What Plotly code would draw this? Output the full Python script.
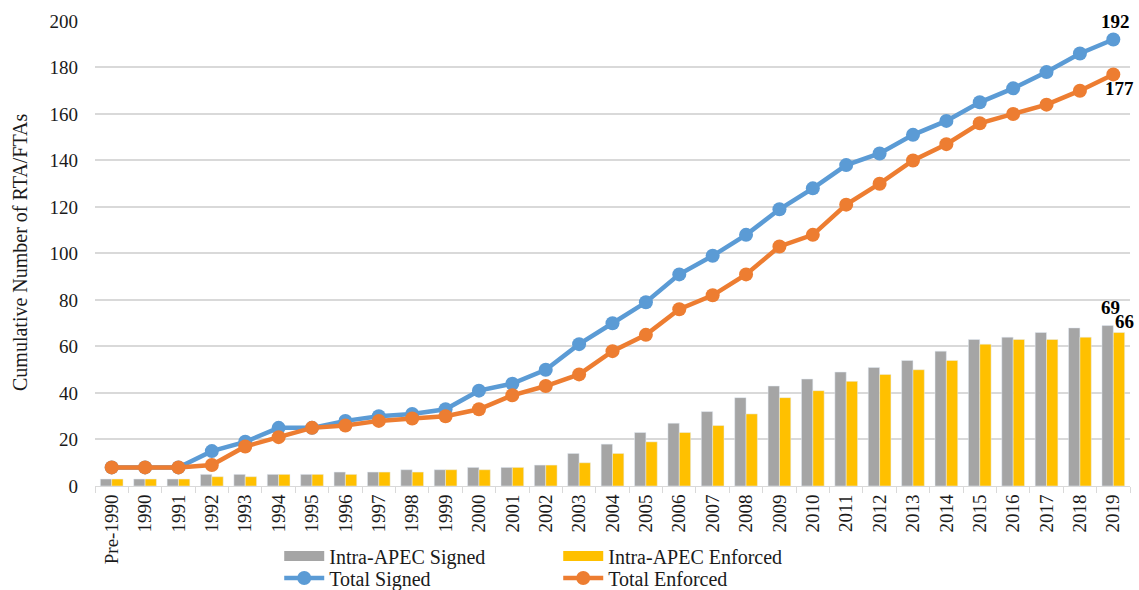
import plotly.graph_objects as go

# data
years = ["Pre-1990", "1990", "1991", "1992", "1993", "1994", "1995", "1996", "1997",
         "1998", "1999", "2000", "2001", "2002", "2003", "2004", "2005", "2006", "2007",
         "2008", "2009", "2010", "2011", "2012", "2013", "2014", "2015", "2016", "2017",
         "2018", "2019"]
intra_signed = [3, 3, 3, 5, 5, 5, 5, 6, 6, 7, 7, 8, 8, 9, 14, 18, 23, 27, 32, 38, 43,
                46, 49, 51, 54, 58, 63, 64, 66, 68, 69]
intra_enforced = [3, 3, 3, 4, 4, 5, 5, 5, 6, 6, 7, 7, 8, 9, 10, 14, 19, 23, 26, 31, 38,
                  41, 45, 48, 50, 54, 61, 63, 63, 64, 66]
total_signed = [8, 8, 8, 15, 19, 25, 25, 28, 30, 31, 33, 41, 44, 50, 61, 70, 79, 91, 99,
                108, 119, 128, 138, 143, 151, 157, 165, 171, 178, 186, 192]
total_enforced = [8, 8, 8, 9, 17, 21, 25, 26, 28, 29, 30, 33, 39, 43, 48, 58, 65, 76, 82,
                  91, 103, 108, 121, 130, 140, 147, 156, 160, 164, 170, 177]

FONT = "Liberation Serif, Times New Roman, serif"
TXT = "#1a1a1a"
GREY, GOLD, BLUE, ORANGE = "#a5a5a5", "#ffc000", "#5b9bd5", "#ed7d31"

fig = go.Figure()
fig.add_trace(go.Bar(x=years, y=intra_signed, name="Intra-APEC Signed", marker_color=GREY,
                     legendgroup="is", showlegend=False))
fig.add_trace(go.Bar(x=years, y=intra_enforced, name="Intra-APEC Enforced", marker_color=GOLD,
                     legendgroup="ie", showlegend=False))
# legend entries for the bars drawn as thick strokes (Excel style wide swatch)
fig.add_trace(go.Scatter(x=[None], y=[None], mode="lines", name="Intra-APEC Signed",
                         line=dict(color=GREY, width=10), legendgroup="is", legend="legend"))
fig.add_trace(go.Scatter(x=[None], y=[None], mode="lines", name="Intra-APEC Enforced",
                         line=dict(color=GOLD, width=10), legendgroup="ie", legend="legend"))
fig.add_trace(go.Scatter(x=years, y=total_signed, name="Total Signed", mode="lines+markers",
                         line=dict(color=BLUE, width=4.5),
                         marker=dict(size=14, color=BLUE), legend="legend2"))
fig.add_trace(go.Scatter(x=years, y=total_enforced, name="Total Enforced", mode="lines+markers",
                         line=dict(color=ORANGE, width=4.5),
                         marker=dict(size=14, color=ORANGE), legend="legend2"))

# end-point value labels (x given as category index of the last year)
last = len(years) - 1
ends = [(total_signed[-1], 2, 18), (total_enforced[-1], 6, -14),
        (intra_signed[-1], -3, 18), (intra_enforced[-1], 11, 11)]
for val, xs, ys in ends:
    fig.add_annotation(x=last, y=val, text=f"<b>{val}</b>", showarrow=False,
                       xshift=xs, yshift=ys, font=dict(family=FONT, size=19, color="black"))

# y axis title placed by hand so the plot area keeps its margins
fig.add_annotation(xref="paper", yref="paper", x=-75 / 1035, y=0.5, textangle=-90,
                   text="Cumulative Number of RTA/FTAs", showarrow=False,
                   xanchor="center", yanchor="middle",
                   font=dict(family=FONT, size=20, color=TXT))

legend_common = dict(orientation="h", xanchor="left", yanchor="middle", x=0.178,
                     yref="container", entrywidth=224,
                     font=dict(family=FONT, size=20, color=TXT),
                     bgcolor="rgba(0,0,0,0)", tracegroupgap=0, itemwidth=40)

fig.update_layout(
    width=1139, height=590,
    margin=dict(l=95, r=9, t=20, b=104),
    plot_bgcolor="white", paper_bgcolor="white",
    barmode="group", bargap=0.32, bargroupgap=0,
    font=dict(family=FONT, size=17, color=TXT),
    legend=dict(y=(590 - 556) / 590, **legend_common),
    legend2=dict(y=(590 - 578) / 590, **legend_common),
    xaxis=dict(type="category", range=[-0.5, len(years) - 0.5], tickangle=-90,
               tickson="boundaries", ticks="outside", ticklen=6, tickcolor="#d9d9d9",
               showline=True, linecolor="#d9d9d9", linewidth=1, showgrid=False,
               automargin=False, tickfont=dict(family=FONT, size=19, color=TXT)),
    yaxis=dict(range=[0, 200.4], tickvals=list(range(0, 201, 20)), showgrid=True,
               gridcolor="#d9d9d9", gridwidth=1.5, zeroline=False, showline=False, ticks="",
               automargin=False, ticklabelstandoff=16,
               tickfont=dict(family=FONT, size=19, color=TXT)),
    showlegend=True,
)

fig.write_html("out.html", config={"displayModeBar": False},
               post_script="document.body.style.margin = '0';")
